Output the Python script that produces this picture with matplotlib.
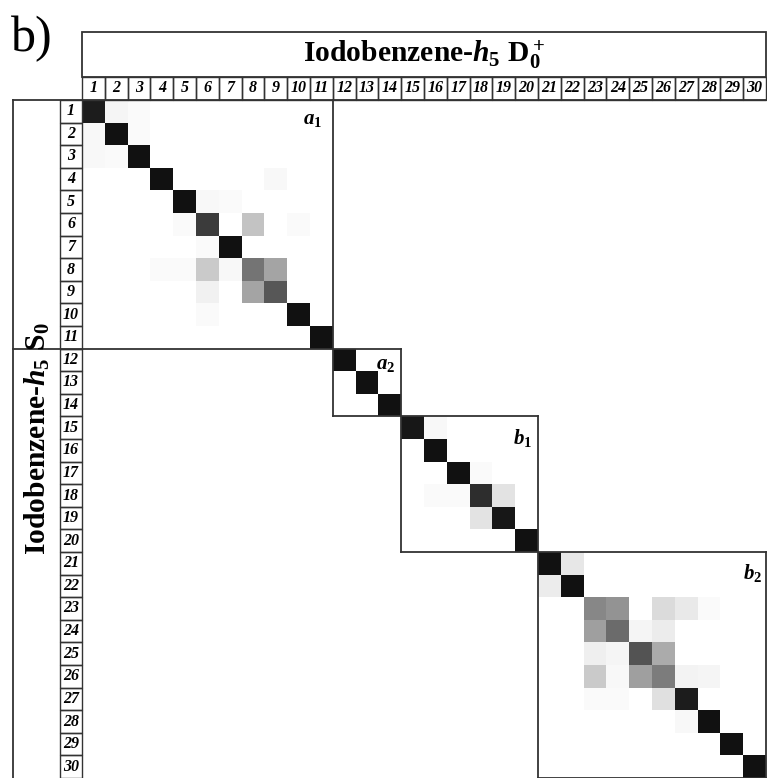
import numpy as np
import matplotlib
matplotlib.use("Agg")
import matplotlib.pyplot as plt
from matplotlib.colors import LinearSegmentedColormap
from matplotlib.patches import Rectangle

plt.rcParams['font.family'] = ['Liberation Serif', 'DejaVu Serif']
plt.rcParams['mathtext.fontset'] = 'custom'
plt.rcParams['mathtext.rm'] = 'Liberation Serif:bold'
plt.rcParams['mathtext.bf'] = 'Liberation Serif:bold'
plt.rcParams['mathtext.it'] = 'Liberation Serif:italic:bold'

# ---------------- data ----------------
n_modes = 30
col_labels = [str(i) for i in range(1, 31)]
row_labels = [str(i) for i in range(1, 31)]

diag_values = [0.95, 1.0, 1.0, 1.0, 1.0, 0.82, 1.0, 0.58, 0.70, 1.0,
               1.0, 1.0, 1.0, 1.0, 0.97, 1.0, 1.0, 0.88, 0.97, 1.0,
               1.0, 1.0, 0.50, 0.62, 0.72, 0.55, 0.95, 1.0, 1.0, 1.0]

# off-diagonal overlaps (1-based row, col, value)
offdiag_rows = [1, 1, 2, 2, 3, 3, 6, 8, 8, 9, 9, 10, 4, 5, 6, 8, 8, 7, 6, 8, 5,
                15, 18, 19, 17, 18, 18,
                21, 22, 23, 23, 23, 24, 24, 24, 25, 25, 25, 26, 26, 26, 26, 26, 27, 27, 27, 28, 23]
offdiag_cols = [2, 3, 1, 3, 1, 2, 8, 6, 9, 8, 6, 6, 9, 6, 5, 4, 5, 6, 10, 7, 7,
                16, 19, 18, 18, 17, 16,
                22, 21, 24, 26, 27, 23, 25, 26, 23, 24, 26, 23, 24, 25, 27, 28, 26, 23, 24, 27, 28]
offdiag_vals = [0.04, 0.02, 0.03, 0.02, 0.03, 0.02, 0.25, 0.22, 0.38, 0.38, 0.06, 0.02, 0.03, 0.03, 0.02, 0.02, 0.02, 0.02, 0.02, 0.03, 0.02,
                0.03, 0.12, 0.12, 0.02, 0.02, 0.02,
                0.10, 0.08, 0.45, 0.15, 0.09, 0.40, 0.04, 0.08, 0.07, 0.04, 0.35, 0.22, 0.03, 0.40, 0.05, 0.04, 0.13, 0.02, 0.02, 0.03, 0.02]

# symmetry blocks
block_names = ['$a_1$', '$a_2$', '$b_1$', '$b_2$']
block_start = [1, 12, 15, 21]
block_end = [11, 14, 20, 30]

# ---------------- build matrix ----------------
M = np.zeros((n_modes, n_modes))
for i, v in enumerate(diag_values):
    M[i, i] = v
for r, c, v in zip(offdiag_rows, offdiag_cols, offdiag_vals):
    M[r - 1, c - 1] = v

cmap = LinearSegmentedColormap.from_list('g', ['#ffffff', '#111111'])

W, H = 767, 778
fig = plt.figure(figsize=(W / 100, H / 100), dpi=100)
x0, x1 = 82, 766
y0, y1 = 100, 778
ax = fig.add_axes([x0 / W, 1 - y1 / H, (x1 - x0) / W, (y1 - y0) / H])
ax.imshow(M, cmap=cmap, vmin=0, vmax=1, extent=(0, 30, 30, 0),
          aspect='auto', interpolation='nearest')
ax.set_xlim(0, 30)
ax.set_ylim(30, 0)
ax.axis('off')

cw = (x1 - x0) / 30.0
ch = (y1 - y0) / 30.0
def dx(px):
    return (px - x0) / cw
def dy(py):
    return (py - y0) / ch

lc = '#333333'
lw = 1.3
left_edge = dx(13)

def line(xs, ys):
    ax.plot(xs, ys, color=lc, lw=lw, clip_on=False, solid_capstyle='projecting')

# header box
ax.add_patch(Rectangle((0, dy(32)), 30, dy(77) - dy(32), fill=False,
                       ec=lc, lw=lw, clip_on=False))
ax.text(15, dy(55), 'Iodobenzene-$h_5$ D$_0^+$', ha='center', va='center',
        fontsize=21.3, fontweight='bold')

# column number boxes
for i, lab in enumerate(col_labels):
    ax.add_patch(Rectangle((i, dy(77)), 1, -dy(77), fill=False, ec=lc,
                           lw=1.0, clip_on=False))
    ax.text(i + 0.5, dy(87.5), lab, ha='center', va='center', fontsize=11.5,
            style='italic', fontweight='bold')

# row number boxes
lab_left = dx(60)
for i, lab in enumerate(row_labels):
    ax.add_patch(Rectangle((lab_left, i), -lab_left, 1, fill=False, ec=lc,
                           lw=1.0, clip_on=False))
    ax.text(lab_left / 2, i + 0.5, lab, ha='center', va='center', fontsize=11.5,
            style='italic', fontweight='bold')

# outer left box
line([left_edge, left_edge], [0, 30.5])
line([left_edge, 30], [0, 0])
ax.text(dx(37.5), 15, 'Iodobenzene-$h_5$ S$_0$', ha='center', va='center',
        rotation=90, fontsize=21.3, fontweight='bold')

# "b)" panel label
ax.text(dx(11), dy(51), 'b)', ha='left', va='baseline', fontsize=36)

# block boxes
for k, (s, e) in enumerate(zip(block_start, block_end)):
    a, b = s - 1, e
    if k == 0:
        line([left_edge, b], [b, b])
    else:
        line([a, b], [a, a])
        line([a, a], [a, b])
        line([a, b], [b, b])
    line([b, b], [a, b])

label_dx = [0.45, 0.27, 0.26, 0.18]
label_dy = [0.45, 0.28, 0.45, 0.45]
for k, name in enumerate(block_names):
    b = block_end[k]
    a = block_start[k] - 1
    ax.text(b - label_dx[k], a + label_dy[k], name, ha='right', va='top',
            fontsize=15)

fig.savefig('out.png', dpi=100)
